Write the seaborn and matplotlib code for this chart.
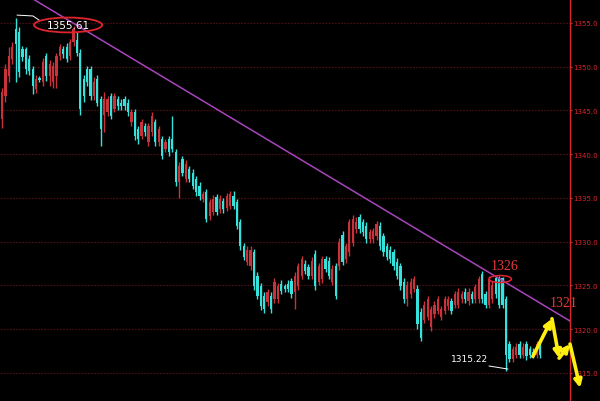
import numpy as np
import pandas as pd
import matplotlib
matplotlib.use("Agg")
import matplotlib.pyplot as plt
import seaborn as sns
from matplotlib.patches import Ellipse

# ------------------------
# candle data
# ------------------------
opens = [1344.0, 1346.6, 1348.9, 1350.9, 1354.3, 1354.0, 1352.0, 1352.0, 1350.9, 1349.7,
         1347.4, 1348.7, 1348.2, 1351.2, 1348.9, 1348.2, 1348.9, 1351.2, 1352.0, 1352.3,
         1351.2, 1352.8, 1353.0, 1351.6, 1348.6, 1349.7, 1349.7, 1346.6, 1348.6, 1346.3,
         1344.5, 1344.8, 1346.6, 1345.2, 1346.3, 1345.9, 1346.3, 1345.9, 1343.7, 1344.8,
         1342.9, 1342.1, 1343.2, 1341.4, 1342.5, 1343.7, 1341.4, 1341.7, 1340.6, 1341.7,
         1341.7, 1340.2, 1336.8, 1339.5, 1337.2, 1338.3, 1337.9, 1337.2, 1336.4, 1334.9,
         1335.7, 1332.9, 1333.4, 1335.1, 1333.7, 1334.6, 1333.9, 1334.1, 1335.2, 1334.5,
         1332.2, 1329.5, 1327.7, 1327.2, 1328.8, 1326.1, 1324.9, 1323.8, 1323.1, 1323.8,
         1323.4, 1323.4, 1325.2, 1324.9, 1325.2, 1325.5, 1324.2, 1324.9, 1326.1, 1327.5,
         1327.1, 1326.1, 1328.6, 1325.4, 1325.7, 1328.0, 1327.8, 1325.4, 1327.2, 1327.2,
         1330.8, 1328.0, 1328.8, 1329.9, 1331.4, 1332.8, 1332.2, 1331.8, 1330.3, 1330.3,
         1330.6, 1331.8, 1330.6, 1329.5, 1329.1, 1328.8, 1327.7, 1327.2, 1325.4, 1323.4,
         1324.0, 1324.6, 1324.6, 1322.0, 1321.1, 1321.4, 1320.2, 1321.7, 1322.1, 1321.4,
         1322.1, 1322.6, 1323.2, 1322.8, 1322.8, 1323.4, 1324.3, 1323.2, 1324.0, 1323.4,
         1323.4, 1326.3, 1324.0, 1322.8, 1323.4, 1325.9, 1325.7, 1325.9, 1323.4, 1318.3,
         1316.6, 1317.1, 1318.3, 1317.1, 1318.3, 1317.7, 1317.4, 1317.1, 1318.0]
highs = [1347.6, 1350.3, 1352.3, 1352.8, 1355.61, 1354.5, 1352.4, 1352.3, 1351.3, 1350.1,
         1349.0, 1348.9, 1351.0, 1351.6, 1350.8, 1350.5, 1351.6, 1352.6, 1352.4, 1352.7,
         1353.2, 1354.7, 1354.0, 1352.0, 1349.0, 1350.1, 1350.1, 1348.8, 1349.0, 1346.7,
         1347.1, 1346.7, 1347.0, 1347.0, 1346.7, 1346.3, 1346.7, 1346.3, 1345.2, 1345.2,
         1343.2, 1344.0, 1343.6, 1343.6, 1344.8, 1344.0, 1343.2, 1342.1, 1341.7, 1342.1,
         1344.4, 1340.6, 1339.1, 1339.8, 1339.3, 1338.7, 1338.3, 1337.5, 1336.8, 1335.8,
         1336.0, 1334.9, 1335.3, 1335.5, 1335.3, 1335.0, 1335.6, 1335.8, 1335.8, 1334.9,
         1332.6, 1329.9, 1329.5, 1329.5, 1329.2, 1326.5, 1325.3, 1324.2, 1324.6, 1324.2,
         1325.8, 1325.3, 1325.6, 1325.2, 1325.6, 1325.9, 1326.5, 1327.6, 1328.4, 1327.9,
         1327.5, 1328.2, 1329.0, 1327.6, 1328.4, 1328.4, 1328.2, 1327.3, 1327.6, 1330.4,
         1331.2, 1329.9, 1332.6, 1333.0, 1332.8, 1333.2, 1332.6, 1332.2, 1331.5, 1331.6,
         1332.4, 1332.2, 1331.0, 1329.9, 1329.5, 1329.2, 1328.1, 1327.6, 1325.8, 1325.5,
         1325.8, 1326.1, 1325.0, 1322.4, 1323.2, 1323.8, 1322.7, 1323.2, 1323.8, 1322.7,
         1323.8, 1323.8, 1323.6, 1324.4, 1324.7, 1324.4, 1324.7, 1324.7, 1324.4, 1325.2,
         1326.1, 1326.6, 1324.4, 1326.1, 1325.5, 1326.1, 1326.1, 1326.0, 1323.8, 1318.7,
         1318.1, 1318.4, 1318.7, 1318.4, 1318.7, 1318.1, 1317.8, 1318.7, 1318.4]
lows = [1343.0, 1346.0, 1348.2, 1350.3, 1348.3, 1348.8, 1350.6, 1349.2, 1349.0, 1346.9,
        1347.0, 1348.3, 1347.8, 1348.4, 1347.8, 1347.6, 1347.6, 1350.8, 1351.0, 1350.5,
        1350.8, 1352.4, 1351.2, 1344.5, 1346.0, 1347.8, 1346.2, 1346.2, 1345.5, 1340.9,
        1342.5, 1344.4, 1344.0, 1344.8, 1345.1, 1345.1, 1345.0, 1344.4, 1343.2, 1341.6,
        1341.2, 1341.7, 1342.1, 1340.9, 1342.1, 1340.9, 1340.9, 1339.4, 1340.2, 1339.8,
        1340.2, 1336.4, 1335.0, 1337.5, 1336.8, 1336.8, 1336.0, 1335.2, 1334.8, 1334.5,
        1332.2, 1332.5, 1333.0, 1333.0, 1333.3, 1333.3, 1333.5, 1333.7, 1333.7, 1331.4,
        1329.1, 1327.9, 1327.3, 1326.8, 1324.5, 1323.4, 1322.2, 1321.9, 1322.7, 1321.9,
        1323.0, 1323.0, 1324.0, 1324.3, 1324.2, 1323.6, 1322.3, 1324.5, 1325.7, 1326.3,
        1325.7, 1325.7, 1324.5, 1325.0, 1325.3, 1326.5, 1325.7, 1325.0, 1323.4, 1326.8,
        1327.3, 1327.6, 1328.4, 1329.5, 1331.0, 1331.0, 1330.7, 1329.9, 1329.9, 1329.9,
        1330.2, 1329.1, 1328.4, 1327.9, 1327.6, 1326.8, 1325.7, 1324.5, 1323.0, 1322.7,
        1323.6, 1324.2, 1320.0, 1318.6, 1320.7, 1321.0, 1319.8, 1321.3, 1321.7, 1321.0,
        1321.7, 1322.2, 1321.7, 1322.4, 1322.4, 1323.0, 1323.0, 1322.8, 1323.0, 1323.0,
        1323.0, 1323.0, 1322.4, 1322.4, 1323.0, 1323.6, 1322.4, 1322.4, 1315.22, 1316.2,
        1316.2, 1316.7, 1316.7, 1316.7, 1316.5, 1316.7, 1316.7, 1316.7, 1316.7]
closes = [1347.1, 1349.7, 1351.2, 1352.3, 1352.6, 1349.4, 1351.1, 1349.7, 1349.5, 1347.8,
          1348.6, 1348.5, 1350.5, 1348.9, 1350.3, 1350.1, 1351.2, 1352.2, 1351.4, 1350.9,
          1352.8, 1354.3, 1351.6, 1345.2, 1346.6, 1348.2, 1346.6, 1348.2, 1345.9, 1342.9,
          1346.3, 1346.3, 1344.4, 1346.6, 1345.5, 1345.5, 1345.5, 1344.8, 1344.8, 1342.1,
          1341.7, 1343.7, 1342.5, 1343.2, 1344.4, 1341.4, 1342.9, 1339.8, 1341.4, 1340.2,
          1340.6, 1336.8, 1338.7, 1337.9, 1338.9, 1337.2, 1336.4, 1335.7, 1335.2, 1335.4,
          1332.6, 1334.5, 1334.9, 1333.4, 1334.9, 1333.7, 1335.2, 1335.4, 1334.1, 1331.8,
          1329.5, 1328.3, 1329.1, 1329.1, 1324.9, 1323.8, 1322.6, 1322.3, 1324.2, 1322.3,
          1325.4, 1324.9, 1324.4, 1324.6, 1324.6, 1324.0, 1326.1, 1327.2, 1328.0, 1326.7,
          1326.1, 1327.8, 1324.9, 1327.2, 1328.0, 1326.9, 1326.1, 1326.9, 1323.8, 1330.0,
          1327.7, 1329.5, 1332.2, 1332.6, 1332.3, 1331.4, 1331.1, 1330.3, 1331.1, 1331.2,
          1332.0, 1329.5, 1328.8, 1328.3, 1328.0, 1327.2, 1326.1, 1324.9, 1323.4, 1325.1,
          1325.4, 1325.7, 1320.6, 1319.0, 1322.8, 1323.4, 1322.3, 1322.8, 1323.4, 1322.3,
          1323.4, 1323.4, 1322.1, 1324.0, 1324.3, 1324.0, 1323.4, 1324.3, 1323.4, 1324.8,
          1325.7, 1323.4, 1322.8, 1325.7, 1325.1, 1324.0, 1322.8, 1322.8, 1317.1, 1316.6,
          1317.7, 1318.0, 1317.1, 1318.0, 1316.9, 1317.1, 1317.1, 1318.3, 1317.1]

# trend line end points and the hand-drawn yellow arrow path
trend_x = [9.1, 166.8]
trend_y = [1357.74, 1320.94]
arrow_x = [155.9, 161.5, 163.6, 166.8, 169.8]
arrow_y = [1316.9, 1321.2, 1316.7, 1318.3, 1313.3]

df = pd.DataFrame({"open": opens, "high": highs, "low": lows, "close": closes})
df["idx"] = np.arange(len(df))
df["up"] = df["close"] >= df["open"]

RED = "#c8323a"
CYAN = "#36e2dc"
AXIS_RED = "#d8262c"

sns.set_style("dark", {"axes.facecolor": "black", "figure.facecolor": "black"})

fig = plt.figure(figsize=(6.0, 4.02), dpi=100)
ax = fig.add_axes([0, 0, 570 / 600, 1])
ax.set_facecolor("black")

# candles
colors = np.where(df["up"], RED, CYAN)
ax.vlines(df["idx"], df["low"], df["high"], colors=colors, lw=1, zorder=3)
body_lo = np.minimum(df["open"], df["close"])
body_h = np.maximum((df["close"] - df["open"]).abs(), 0.15)
ax.bar(df["idx"], body_h, bottom=body_lo, width=0.66, color=colors, linewidth=0, zorder=4)

# trend line
sns.lineplot(x=trend_x, y=trend_y, color="#a844bc", lw=1.1, ax=ax, zorder=5)

ax.set_xlim(-0.59, 166.8)
ax.set_ylim(1311.8, 1357.74)

# grid + right axis
ax.set_yticks(np.arange(1315, 1356, 5))
ax.yaxis.set_major_formatter(matplotlib.ticker.FormatStrFormatter("%.1f"))
ax.yaxis.tick_right()
ax.tick_params(axis="y", colors=AXIS_RED, labelsize=5.0, length=1.5, pad=1)
ax.set_xticks([])
ax.grid(False)
for v in np.arange(1315, 1356, 5):
    ax.axhline(v, color="#460c14", lw=0.9, ls=(0, (1.5, 1)), zorder=1)
for side in ["top", "left", "bottom"]:
    ax.spines[side].set_visible(False)
ax.spines["right"].set_color(AXIS_RED)
ax.spines["right"].set_linewidth(1)

# high annotation
ax.plot([4.4, 9.1, 11.0], [1355.9, 1355.8, 1355.3], color="white", lw=0.7, zorder=6)
ax.add_patch(Ellipse((19.4, 1354.77), 20.0, 1.7, fill=False, ec="#e0242c", lw=1.3, zorder=6))
ax.text(19.4, 1354.77, "1355.61", color="white", fontsize=7.5, ha="center", va="center", zorder=7)

# 1326 annotation
ax.add_patch(Ellipse((146.3, 1325.74), 6.6, 0.8, fill=False, ec="#e0242c", lw=1.1, zorder=6))
ax.text(147.7, 1327.3, "1326", color="#e83a3a", fontsize=10, family="Liberation Serif",
        ha="center", va="center", zorder=7)
ax.text(164.8, 1323.1, "1321", color="#e83a3a", fontsize=10, family="Liberation Serif",
        ha="center", va="center", zorder=7, clip_on=False)

# low annotation
ax.plot([143.0, 148.6], [1315.8, 1315.45], color="white", lw=0.7, zorder=6)
ax.text(137.4, 1316.6, "1315.22", color="white", fontsize=6.5, ha="center", va="center", zorder=7)

# yellow arrows
for i in range(len(arrow_x) - 1):
    ax.annotate("", xy=(arrow_x[i + 1], arrow_y[i + 1]), xytext=(arrow_x[i], arrow_y[i]),
                arrowprops=dict(arrowstyle="-|>", color="#ffee10", lw=2.6, mutation_scale=11,
                                shrinkA=0, shrinkB=0),
                annotation_clip=False, zorder=8)

fig.savefig("out.png", dpi=100, facecolor="black")
plt.close(fig)
